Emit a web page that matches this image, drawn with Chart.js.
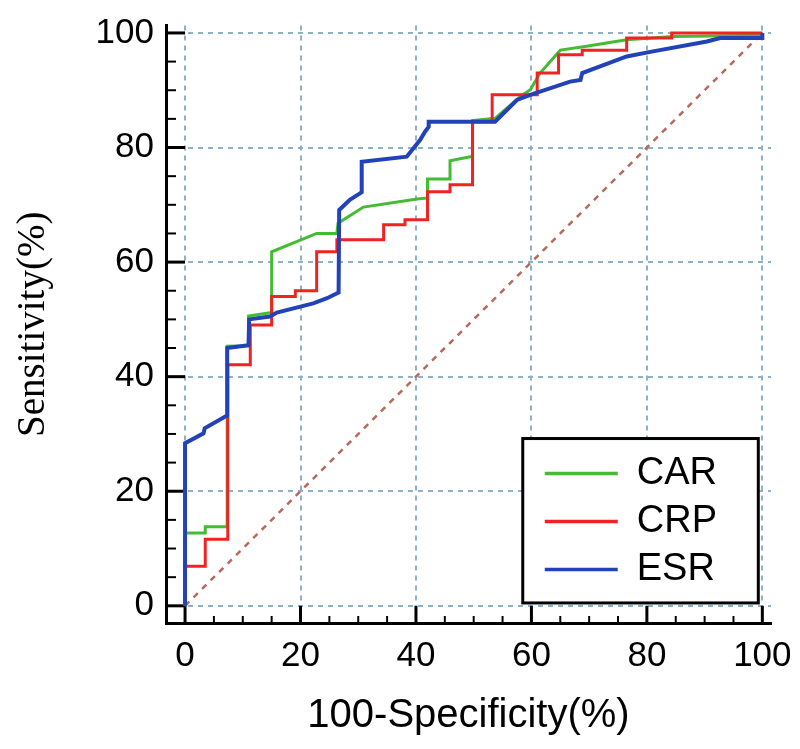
<!DOCTYPE html>
<html>
<head>
<meta charset="utf-8">
<script src="https://cdn.jsdelivr.net/npm/chart.js@4/dist/chart.umd.min.js"></script>
<style>
  html, body { margin: 0; padding: 0; background: #fff; }
</style>
</head>
<body>
<canvas id="roc" width="800" height="749"></canvas>
<script>
// ROC curve vertices (100-Specificity %, Sensitivity %)
const carX = [0, 0, 3.5, 3.5, 7.3, 7.3, 11.0, 11.0, 15.0, 15.0, 22.8, 26.3, 26.5, 30.9, 40.2, 42.0, 42.0, 45.9, 45.9, 49.4, 49.8, 49.8, 53.7, 58.1, 59.8, 61.5, 65.0, 69.0, 76.5, 84.6, 100, 100];
const carY = [0, 12.7, 12.7, 13.8, 13.8, 45.3, 45.4, 50.6, 51.2, 61.8, 65.0, 65.0, 66.8, 69.6, 71.0, 71.2, 74.5, 74.5, 77.7, 78.4, 78.4, 84.7, 85.1, 88.9, 90.1, 93.0, 97.0, 97.6, 98.8, 99.4, 99.6, 100];

const crpX = [0, 0, 3.5, 3.5, 7.4, 7.4, 11.3, 11.3, 15.0, 15.0, 19.1, 19.1, 22.8, 22.8, 26.3, 26.3, 34.4, 34.4, 38.1, 38.1, 42.0, 42.0, 45.9, 45.9, 49.8, 49.8, 53.2, 53.2, 61.0, 61.0, 64.7, 64.7, 68.8, 68.8, 76.5, 76.5, 84.3, 84.3, 100];
const crpY = [0, 6.9, 6.9, 11.6, 11.6, 42.1, 42.1, 49.0, 49.0, 54.0, 54.0, 55.0, 55.0, 61.8, 61.8, 63.9, 63.9, 66.5, 66.5, 67.4, 67.4, 72.3, 72.3, 73.5, 73.5, 84.5, 84.5, 89.2, 89.2, 93.0, 93.0, 96.2, 96.2, 97.0, 97.0, 99.1, 99.1, 100, 100];

const esrX = [0, 0, 3.2, 3.4, 6.9, 7.3, 7.3, 11.0, 11.1, 14.7, 15.9, 22.2, 24.6, 26.6, 26.7, 28.6, 30.3, 30.6, 30.6, 38.4, 40.7, 41.6, 42.2, 42.2, 53.7, 57.5, 59.8, 66.7, 68.5, 68.8, 76.5, 80.6, 90.4, 92.7, 100, 100];
const esrY = [0, 28.4, 30.1, 31.0, 33.0, 33.2, 45.0, 45.5, 50.0, 50.5, 51.2, 52.8, 53.7, 54.7, 69.1, 70.9, 72.0, 72.2, 77.5, 78.4, 81.3, 82.8, 83.6, 84.5, 84.5, 88.3, 89.2, 91.5, 91.8, 93.0, 95.9, 96.7, 98.5, 99.1, 99.1, 100];

// reference (chance) diagonal
const refX = [0, 100];
const refY = [0, 100];

const seriesNames = ['CAR', 'CRP', 'ESR'];
const majorTicks = [0, 20, 40, 60, 80, 100];
const minorTicks = [5, 10, 15, 25, 30, 35, 45, 50, 55, 65, 70, 75, 85, 90, 95];

function pts(xs, ys) {
  return xs.map((x, i) => ({ x: x, y: ys[i] }));
}

// inward tick marks, drawn from the offset axes up to the zero lines
const innerTicks = {
  id: 'innerTicks',
  beforeDatasetsDraw(chart) {
    const { ctx, chartArea, scales: { x, y } } = chart;
    const x0 = x.getPixelForValue(0);
    const y0 = y.getPixelForValue(0);
    ctx.save();
    ctx.strokeStyle = '#000';
    ctx.lineWidth = 3;
    majorTicks.forEach(v => {
      const py = y.getPixelForValue(v);
      ctx.beginPath(); ctx.moveTo(chartArea.left, py); ctx.lineTo(x0, py); ctx.stroke();
      const px = x.getPixelForValue(v);
      ctx.beginPath(); ctx.moveTo(px, chartArea.bottom); ctx.lineTo(px, y0); ctx.stroke();
    });
    ctx.lineWidth = 2;
    minorTicks.forEach(v => {
      const py = y.getPixelForValue(v);
      ctx.beginPath(); ctx.moveTo(chartArea.left, py); ctx.lineTo(chartArea.left + 10, py); ctx.stroke();
      const px = x.getPixelForValue(v);
      ctx.beginPath(); ctx.moveTo(px, chartArea.bottom); ctx.lineTo(px, chartArea.bottom - 7); ctx.stroke();
    });
    ctx.restore();
  }
};

// boxed legend in the lower right of the plot
const boxLegend = {
  id: 'boxLegend',
  afterDraw(chart) {
    const ctx = chart.ctx;
    const x = chart.scales.x, y = chart.scales.y;
    const left = x.getPixelForValue(58.5), right = x.getPixelForValue(99.3);
    const top = y.getPixelForValue(29.2), bottom = y.getPixelForValue(0.5);
    ctx.save();
    ctx.fillStyle = '#fff';
    ctx.fillRect(left, top, right - left, bottom - top);
    ctx.strokeStyle = '#000';
    ctx.lineWidth = 3;
    ctx.strokeRect(left, top, right - left, bottom - top);
    ctx.font = '38px "Liberation Sans", Arial, sans-serif';
    ctx.textBaseline = 'middle';
    ctx.fillStyle = '#000';
    const items = chart.data.datasets.filter(d => seriesNames.includes(d.label));
    items.forEach((d, i) => {
      const ly = top + 35 + i * 48;
      ctx.strokeStyle = d.borderColor;
      ctx.lineWidth = 3.5;
      ctx.beginPath(); ctx.moveTo(left + 22, ly); ctx.lineTo(left + 95, ly); ctx.stroke();
      ctx.fillText(d.label, left + 114, ly);
    });
    ctx.restore();
  }
};

const gridColor = '#8db2c6';

new Chart(document.getElementById('roc'), {
  type: 'line',
  data: {
    datasets: [
      { label: seriesNames[0], data: pts(carX, carY), borderColor: '#45bb34', borderWidth: 3, order: 3 },
      { label: seriesNames[1], data: pts(crpX, crpY), borderColor: '#f02222', borderWidth: 3, order: 2 },
      { label: seriesNames[2], data: pts(esrX, esrY), borderColor: '#2142b8', borderWidth: 4, order: 1 },
      { label: 'ref', data: pts(refX, refY), borderColor: '#b8695c', borderWidth: 2.5, borderDash: [6, 6], order: 4 }
    ]
  },
  options: {
    responsive: false,
    animation: false,
    elements: { point: { radius: 0 }, line: { tension: 0, fill: false } },
    layout: { padding: { left: 0, right: 29, top: 25.5, bottom: 0 } },
    plugins: { legend: { display: false }, tooltip: { enabled: false } },
    scales: {
      x: {
        type: 'linear',
        min: -3.3,
        max: 101.5,
        afterBuildTicks: s => { s.ticks = majorTicks.map(v => ({ value: v })); },
        afterFit: s => { s.height = 126; s.paddingLeft = 0; s.paddingRight = 0; },
        ticks: { color: '#000', padding: 12, font: { family: '"Liberation Sans", Arial, sans-serif', size: 35 } },
        grid: { color: gridColor, lineWidth: 2, drawTicks: false },
        border: { display: true, color: '#000', width: 3, dash: [5, 5] },
        title: {
          display: true, text: '100-Specificity(%)', color: '#000',
          font: { family: '"Liberation Sans", Arial, sans-serif', size: 40 },
          padding: { top: 0, bottom: 9 }
        }
      },
      y: {
        type: 'linear',
        min: -3.0,
        max: 101.3,
        afterBuildTicks: s => { s.ticks = majorTicks.map(v => ({ value: v })); },
        afterFit: s => { s.width = 166; s.paddingTop = 0; s.paddingBottom = 0; },
        ticks: { color: '#000', padding: 12, font: { family: '"Liberation Sans", Arial, sans-serif', size: 35 } },
        grid: { color: gridColor, lineWidth: 2, drawTicks: false },
        border: { display: true, color: '#000', width: 3, dash: [5, 5] },
        title: {
          display: true, text: 'Sensitivity(%)', color: '#000',
          font: { family: '"Liberation Serif", "Times New Roman", serif', size: 39 },
          padding: { top: 10, bottom: 0 }
        }
      }
    }
  },
  plugins: [innerTicks, boxLegend]
});
</script>
</body>
</html>
